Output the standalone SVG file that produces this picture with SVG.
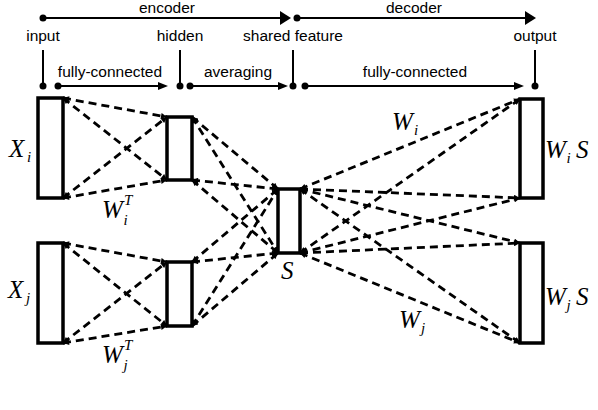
<svg xmlns="http://www.w3.org/2000/svg" width="598" height="410" viewBox="0 0 598 410">
<style>
.lbl{font-family:"Liberation Sans",Arial,sans-serif;font-size:15.5px;text-anchor:middle;fill:#000}
.m{font-family:"Liberation Serif","Times New Roman",serif;font-style:italic;font-size:25px;fill:#000}
.s{font-size:15px}
.box{fill:#fff;stroke:#000;stroke-width:3.5}
.dl{stroke:#000;stroke-width:2.8;stroke-dasharray:8,5;fill:none;marker-start:url(#ah);marker-end:url(#ah)}
.hl{stroke:#000;stroke-width:2;fill:none}
.dot{fill:#000}
</style>
<defs>
<marker id="ah" viewBox="0 0 10 10" refX="10" refY="5" markerWidth="7" markerHeight="6" markerUnits="userSpaceOnUse" orient="auto-start-reverse">
<path d="M0,0 L10,5 L0,10 z" fill="#000"/>
</marker>
</defs>
<g id="header">
<line class="hl" x1="43" y1="18" x2="282" y2="18"/>
<path d="M280,11 L291,18 L280,25 z" fill="#000"/>
<circle class="dot" cx="43" cy="18" r="3.5"/>
<circle class="dot" cx="297" cy="18" r="3.5"/>
<line class="hl" x1="297" y1="18" x2="527" y2="18"/>
<path d="M525,11 L536,18 L525,25 z" fill="#000"/>
<text class="lbl" x="167" y="13">encoder</text>
<text class="lbl" x="414" y="13">decoder</text>
<text class="lbl" x="43" y="41">input</text>
<text class="lbl" x="180" y="41">hidden</text>
<text class="lbl" x="293" y="41">shared feature</text>
<text class="lbl" x="535" y="41">output</text>
<line class="hl" x1="43" y1="50" x2="43" y2="84"/>
<line class="hl" x1="180" y1="50" x2="180" y2="84"/>
<line class="hl" x1="293" y1="50" x2="293" y2="84"/>
<line class="hl" x1="535" y1="50" x2="535" y2="84"/>
<circle class="dot" cx="43" cy="86" r="3.5"/>
<circle class="dot" cx="180" cy="86" r="3.5"/>
<circle class="dot" cx="293" cy="86" r="3.5"/>
<circle class="dot" cx="535" cy="86" r="3.5"/>
<circle class="dot" cx="58" cy="86" r="3.5"/>
<line class="hl" x1="58" y1="86" x2="160" y2="86"/>
<path d="M158,82 L168,86 L158,90 z" fill="#000"/>
<circle class="dot" cx="190" cy="86" r="3.5"/>
<line class="hl" x1="190" y1="86" x2="280" y2="86"/>
<path d="M278,82 L288,86 L278,90 z" fill="#000"/>
<circle class="dot" cx="305" cy="86" r="3.5"/>
<line class="hl" x1="305" y1="86" x2="516" y2="86"/>
<path d="M514,82 L524,86 L514,90 z" fill="#000"/>
<text class="lbl" x="110" y="77">fully-connected</text>
<text class="lbl" x="238" y="77">averaging</text>
<text class="lbl" x="415" y="77">fully-connected</text>
</g>
<g id="connectors">
<line class="dl" x1="63" y1="98" x2="167" y2="117"/>
<line class="dl" x1="63" y1="98" x2="167" y2="180"/>
<line class="dl" x1="63" y1="198" x2="167" y2="117"/>
<line class="dl" x1="63" y1="198" x2="167" y2="180"/>
<line class="dl" x1="63" y1="243" x2="167" y2="262"/>
<line class="dl" x1="63" y1="243" x2="167" y2="326"/>
<line class="dl" x1="63" y1="343" x2="167" y2="262"/>
<line class="dl" x1="63" y1="343" x2="167" y2="326"/>
<line class="dl" x1="192" y1="117" x2="278" y2="189"/>
<line class="dl" x1="192" y1="117" x2="278" y2="253"/>
<line class="dl" x1="192" y1="180" x2="278" y2="189"/>
<line class="dl" x1="192" y1="180" x2="278" y2="253"/>
<line class="dl" x1="192" y1="262" x2="278" y2="189"/>
<line class="dl" x1="192" y1="262" x2="278" y2="253"/>
<line class="dl" x1="192" y1="326" x2="278" y2="189"/>
<line class="dl" x1="192" y1="326" x2="278" y2="253"/>
<line class="dl" x1="300" y1="189" x2="520" y2="99"/>
<line class="dl" x1="300" y1="253" x2="520" y2="99"/>
<line class="dl" x1="300" y1="189" x2="520" y2="198"/>
<line class="dl" x1="300" y1="253" x2="520" y2="198"/>
<line class="dl" x1="300" y1="189" x2="520" y2="243"/>
<line class="dl" x1="300" y1="253" x2="520" y2="243"/>
<line class="dl" x1="300" y1="189" x2="520" y2="343"/>
<line class="dl" x1="300" y1="253" x2="520" y2="343"/>
</g>
<g id="Xi"><rect class="box" x="38" y="98" width="25" height="100"/>
<text class="m" x="9" y="157">X</text><text class="m s" x="27" y="162">i</text></g>
<g id="Xj"><rect class="box" x="38" y="243" width="25" height="100"/>
<text class="m" x="8" y="298">X</text><text class="m s" x="26" y="303">j</text></g>
<g id="hidden_i"><rect class="box" x="167" y="117" width="25" height="63"/>
<text class="m" x="102" y="218">W</text><text class="m s" x="124" y="205">T</text><text class="m s" x="123.5" y="225">i</text></g>
<g id="hidden_j"><rect class="box" x="167" y="262" width="25" height="64"/>
<text class="m" x="102" y="363">W</text><text class="m s" x="124" y="350">T</text><text class="m s" x="123.5" y="370">j</text></g>
<g id="S"><rect class="box" x="278" y="189" width="22" height="64"/>
<text class="m" x="281" y="279">S</text></g>
<g id="WiS"><rect class="box" x="520" y="99" width="23" height="99"/>
<text class="m" x="545" y="158">W</text><text class="m s" x="566.5" y="163">i</text><text class="m" x="576" y="158">S</text></g>
<g id="WjS"><rect class="box" x="520" y="243" width="23" height="100"/>
<text class="m" x="545" y="305">W</text><text class="m s" x="566.5" y="310">j</text><text class="m" x="576" y="305">S</text></g>
<g id="edge_labels">
<text class="m" x="392" y="130">W</text><text class="m s" x="414" y="135">i</text>
<text class="m" x="399" y="328">W</text><text class="m s" x="421" y="333">j</text>
</g>
</svg>
